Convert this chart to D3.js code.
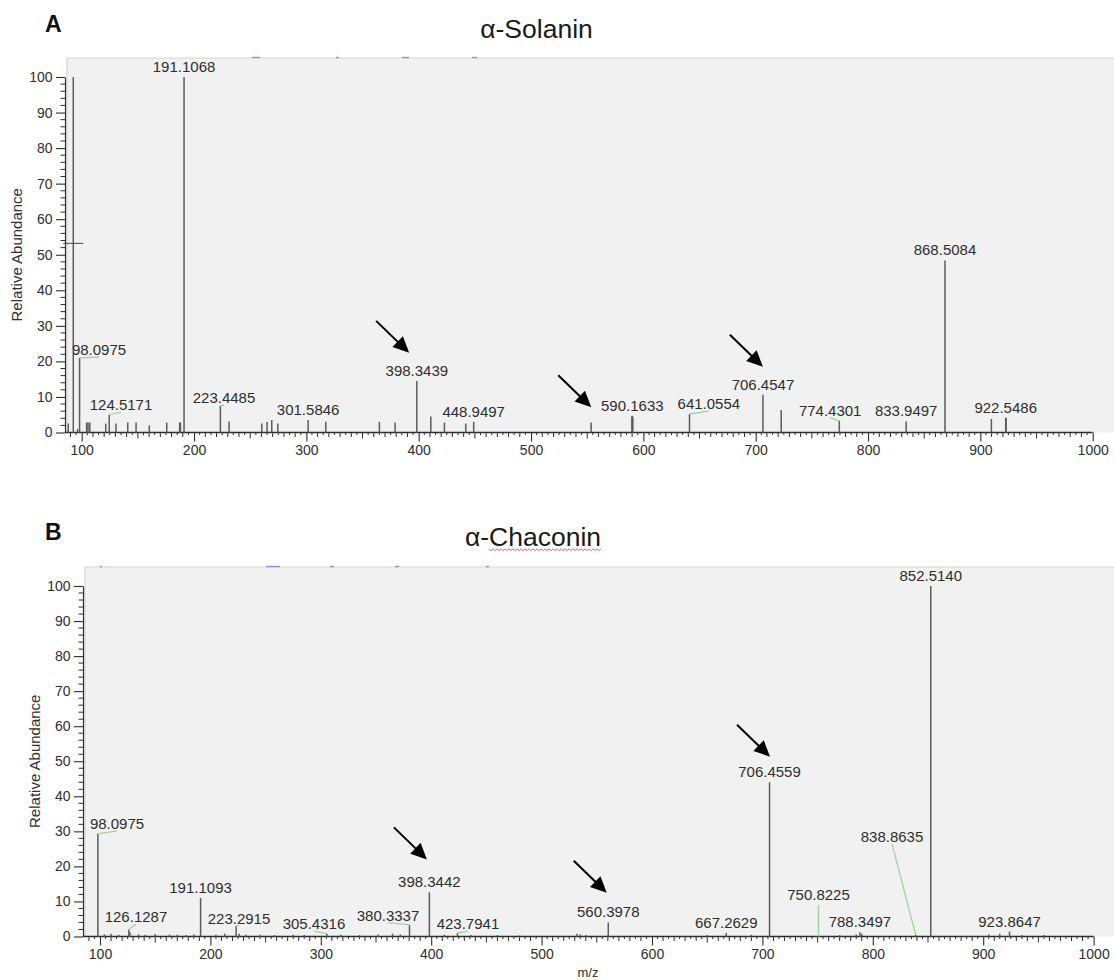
<!DOCTYPE html>
<html>
<head>
<meta charset="utf-8">
<script src="https://cdn.jsdelivr.net/npm/d3@7/dist/d3.min.js"></script>
<style>
  body { margin: 0; background: #fff; }
  svg { display: block; font-family: "Liberation Sans", Arial, Helvetica, sans-serif; }
</style>
</head>
<body>
<svg id="chart" width="1114" height="980"></svg>
<script>
// ---------------- data ----------------
// α-Solanin MS/MS spectrum: [m/z, relative abundance %]
const solaninPeaks = [
  [88, 2.5], [92.5, 100], [96.4, 1.0], [98.0975, 21], [104.4, 2.8], [105.6, 2.8], [107.2, 2.8],
  [121.4, 2.5], [124.5171, 5], [130.5, 2.5], [141, 2.8], [148.4, 2.8], [160.2, 2], [175.7, 2.8],
  [187.2, 2.8], [187.9, 2.8], [191.1068, 100], [223.4485, 7.5], [231.2, 3.1], [260.3, 2.5],
  [265, 3], [269.2, 3.5], [274.6, 2.5], [301.5846, 3.5], [317.3, 3], [365, 3], [379, 2.8],
  [398.3439, 14.5], [410.8, 4.5], [422.9, 2.8], [441.9, 2.5], [448.9497, 3], [553.5, 2.8],
  [589.8, 4.5], [590.1633, 4.7], [590.6, 4.3], [641.0554, 5.2], [706.4547, 10.6], [722.7, 6.3],
  [774.4301, 3.3], [833.9497, 3.1], [868.5084, 48.4], [909.8, 3.8], [922.5486, 4.2], [922.9, 4.0]
];
const solaninLabels = ["98.0975", "124.5171", "191.1068", "223.4485", "301.5846", "398.3439",
  "448.9497", "590.1633", "641.0554", "706.4547", "774.4301", "833.9497", "868.5084", "922.5486"];

// α-Chaconin MS/MS spectrum: [m/z, relative abundance %]
const chaconinPeaks = [
  [98.0975, 29.3], [104, 0.6], [110, 0.8], [117, 0.5], [126.1287, 2.0], [127.2, 1.2], [135, 0.6],
  [141, 0.5], [150, 0.7], [163, 0.5], [170, 0.5], [178, 0.4], [185, 0.6], [191.1093, 11],
  [205, 0.5], [213, 0.8], [223.2915, 3.0], [226, 0.8], [232, 0.5], [245, 0.5], [258, 0.4],
  [275, 0.5], [285, 0.4], [305.4316, 0.8], [318, 0.5], [335, 0.4], [352, 0.6], [365, 0.8],
  [372, 0.6], [380.3337, 3.3], [398.3442, 12.6], [412, 0.5], [423.7941, 1.0], [436, 0.4],
  [460, 0.4], [480, 0.3], [532, 0.8], [535, 0.6], [540, 0.4], [560.3978, 4.0], [650, 0.4],
  [667.2629, 1.0], [690, 0.5], [706.4559, 44], [750.8225, 9], [770, 0.4], [785, 0.6],
  [788.3497, 1.2], [790, 0.8], [838.8635, 0.5], [852.5140, 100], [905, 0.6], [915, 0.8],
  [923.8647, 1.4], [935, 0.4], [955, 0.4]
];
const chaconinLabels = ["98.0975", "126.1287", "191.1093", "223.2915", "305.4316", "380.3337",
  "398.3442", "423.7941", "560.3978", "667.2629", "706.4559", "750.8225", "788.3497",
  "838.8635", "852.5140", "923.8647"];

const mzTicks = [100, 200, 300, 400, 500, 600, 700, 800, 900, 1000];
const abundanceTicks = [0, 10, 20, 30, 40, 50, 60, 70, 80, 90, 100];

// ---------------- annotation layout ----------------
// labels moved off their peak: [m/z, abundance] of the label baseline centre
const solaninLabelAt = {
  "98.0975": [115.4, 21.8], "124.5171": [135, 6.3], "223.4485": [226.7, 8.3],
  "641.0554": [658.3, 6.6], "774.4301": [766.3, 4.7]
};
const chaconinLabelAt = {
  "98.0975": [115.4, 30.7], "126.1287": [132.6, 4.1], "223.2915": [225.9, 3.6],
  "305.4316": [293.8, 2.1], "380.3337": [360.9, 4.5], "423.7941": [433.3, 2.1],
  "838.8635": [817.4, 27]
};
// arrow tips: [m/z, abundance]
const solaninArrows = [[391.5, 22.4], [553.6, 7.1], [706.4, 18.5]];
const chaconinArrows = [[396.1, 22], [559, 12.5], [706.9, 51.3]];

const W = 1114;
const svg = d3.select("#chart");

const panels = [
  {
    letter: "A", title: "α-Solanin", peaks: solaninPeaks, labels: solaninLabels,
    labelAt: solaninLabelAt, arrows: solaninArrows, cursor: [92.5, 53.2],
    left: 67, top: 58, bottom: 432.5, x100: 81.7, x1000: 1092.7, y100: 77, axisX: 65,
    titleX: 536.5, titleBase: 37.5, letterBase: 31.7, underline: false, xTitle: false,
    headerMarks: [[252, 260], [336, 339], [402, 409], [472, 477]],
    greenPeaks: []
  },
  {
    letter: "B", title: "α-Chaconin", peaks: chaconinPeaks, labels: chaconinLabels,
    labelAt: chaconinLabelAt, arrows: chaconinArrows, cursor: null,
    left: 85, top: 567, bottom: 936.5, x100: 100, x1000: 1093.6, y100: 586, axisX: 83,
    titleX: 533, titleBase: 546, letterBase: 540, underline: true, xTitle: true,
    headerMarks: [[100, 102], [266, 280], [330, 334], [395, 399], [486, 489]],
    greenPeaks: ["750.8225"]
  }
];

const ink = "#2e2e2e";
const peakStroke = "#5c5c5c";
const leaderStroke = "#9fd69f";

panels.forEach(p => {
  const x = d3.scaleLinear().domain([100, 1000]).range([p.x100, p.x1000]);
  const y = d3.scaleLinear().domain([0, 100]).range([p.bottom, p.y100]);
  const g = svg.append("g");

  // plot background
  g.append("rect")
    .attr("x", p.left).attr("y", p.top)
    .attr("width", W - p.left + 2).attr("height", p.bottom - p.top)
    .attr("fill", "#f1f1f1");
  g.append("path")
    .attr("d", `M${p.left},${p.bottom}V${p.top}H${W}`)
    .attr("fill", "none").attr("stroke", "#d6d6d6").attr("stroke-width", 1.2);

  // remnants of the instrument header along the top edge
  g.selectAll(".hdr").data(p.headerMarks).join("line")
    .attr("x1", d => d[0]).attr("x2", d => d[1])
    .attr("y1", p.top - 0.5).attr("y2", p.top - 0.5)
    .attr("stroke", "#6a6ad0").attr("stroke-width", 1.4).attr("opacity", 0.7);

  // panel letter and title
  g.append("text").attr("x", 45).attr("y", p.letterBase)
    .attr("font-size", 23).attr("font-weight", "bold").attr("fill", "#111")
    .text(p.letter);
  const title = g.append("text").attr("x", p.titleX).attr("y", p.titleBase)
    .attr("text-anchor", "middle").attr("font-size", 26.5).attr("fill", "#1a1a1a")
    .text(p.title);
  if (p.underline) {
    const node = title.node();
    const x0 = node.getStartPositionOfChar(2).x;
    const len = node.getSubStringLength(2, p.title.length - 2);
    const yy = p.titleBase + 3;
    let d = `M${x0},${yy}`;
    for (let xx = x0, k = 0; xx < x0 + len; xx += 2, k++) {
      d += `L${xx + 2},${yy + (k % 2 === 0 ? 1.6 : -0.2)}`;
    }
    g.append("path").attr("d", d).attr("fill", "none")
      .attr("stroke", "#ef4b4b").attr("stroke-width", 0.9);
  }

  // y axis
  const yAxis = d3.axisLeft(y).tickValues(abundanceTicks).tickSize(9).tickSizeOuter(0).tickPadding(3.5);
  const ya = g.append("g").attr("transform", `translate(${p.axisX},0)`).call(yAxis);
  ya.select(".domain").attr("stroke", ink).attr("stroke-width", 1.2);
  ya.selectAll(".tick line").attr("stroke", ink).attr("stroke-width", 1.1);
  ya.selectAll(".tick text").attr("font-size", 14).attr("fill", ink)
    .attr("font-family", "Liberation Sans, Arial, sans-serif");
  ya.selectAll(".minor").data(d3.range(0, 101, 2).filter(v => v % 10 !== 0)).join("line")
    .attr("x1", -4.5).attr("x2", 0).attr("y1", d => y(d)).attr("y2", d => y(d))
    .attr("stroke", ink).attr("stroke-width", 1);
  g.append("text")
    .attr("transform", `translate(${p.axisX - 48},${(p.bottom + p.y100) / 2}) rotate(-90)`)
    .attr("text-anchor", "middle").attr("dy", "0.35em")
    .attr("font-size", 15).attr("fill", ink).text("Relative Abundance");

  // x axis
  const xAxis = d3.axisBottom(x).tickValues(mzTicks).tickFormat(d3.format("d"))
    .tickSize(9).tickSizeOuter(0).tickPadding(4);
  const xa = g.append("g").attr("transform", `translate(0,${p.bottom})`).call(xAxis);
  xa.select(".domain").remove();
  xa.selectAll(".tick line").attr("stroke", ink).attr("stroke-width", 1.1);
  xa.selectAll(".tick text").attr("font-size", 14).attr("fill", ink)
    .attr("font-family", "Liberation Sans, Arial, sans-serif");
  const minorX = d3.range(100 - 15, 1000, 5).filter(v => v % 100 !== 0 && x(v) > p.axisX + 2);
  xa.selectAll(".minor").data(minorX).join("line")
    .attr("x1", d => x(d)).attr("x2", d => x(d)).attr("y1", 0)
    .attr("y2", d => d % 50 === 0 ? 6 : (d % 10 === 0 ? 4.5 : 2.5))
    .attr("stroke", ink).attr("stroke-width", 1);
  g.append("line")
    .attr("x1", p.axisX).attr("x2", x(1000)).attr("y1", p.bottom).attr("y2", p.bottom)
    .attr("stroke", ink).attr("stroke-width", 1.4);
  if (p.xTitle) {
    g.append("text").attr("x", 588).attr("y", p.bottom + 40.5)
      .attr("text-anchor", "middle").attr("font-size", 13).attr("fill", ink).text("m/z");
  }

  // peaks
  const green = new Set(p.greenPeaks.map(Number));
  g.selectAll(".peak").data(p.peaks).join("line")
    .attr("x1", d => x(d[0])).attr("x2", d => x(d[0]))
    .attr("y1", y(0)).attr("y2", d => y(d[1]))
    .attr("stroke", d => green.has(d[0]) ? leaderStroke : peakStroke)
    .attr("stroke-width", 1.5);

  // cursor cross
  if (p.cursor) {
    g.append("line")
      .attr("x1", x(p.cursor[0]) - 10).attr("x2", x(p.cursor[0]) + 10)
      .attr("y1", y(p.cursor[1])).attr("y2", y(p.cursor[1]))
      .attr("stroke", "#555").attr("stroke-width", 1.1);
  }

  // peak labels with leader lines
  const byMz = new Map(p.peaks.map(d => [d[0], d[1]]));
  p.labels.forEach(lbl => {
    const mz = +lbl;
    const ab = byMz.get(mz);
    const px = x(mz), py = y(ab);
    let lx = px, ly = py - 5;
    if (p.labelAt[lbl]) {
      lx = x(p.labelAt[lbl][0]);
      ly = y(p.labelAt[lbl][1]);
      g.append("line").attr("x1", px).attr("y1", py).attr("x2", lx).attr("y2", ly + 2)
        .attr("stroke", leaderStroke).attr("stroke-width", 1.3);
    }
    g.append("text").attr("x", lx).attr("y", ly)
      .attr("text-anchor", "middle").attr("font-size", 15).attr("fill", ink)
      .text(lbl);
  });

  // arrows pointing at diagnostic fragments
  p.arrows.forEach(a => {
    const tx = x(a[0]), ty = y(a[1]);
    const dx = 33, dy = 32, L = Math.hypot(dx, dy);
    const ux = dx / L, uy = dy / L;
    const head = 16, half = 7.5;
    const bx = tx - ux * head, by = ty - uy * head;
    g.append("line").attr("x1", tx - dx).attr("y1", ty - dy).attr("x2", bx + ux * 2).attr("y2", by + uy * 2)
      .attr("stroke", "#000").attr("stroke-width", 2);
    g.append("path")
      .attr("d", `M${tx},${ty}L${bx - uy * half},${by + ux * half}L${bx + uy * half},${by - ux * half}Z`)
      .attr("fill", "#000");
  });
});
</script>
</body>
</html>
